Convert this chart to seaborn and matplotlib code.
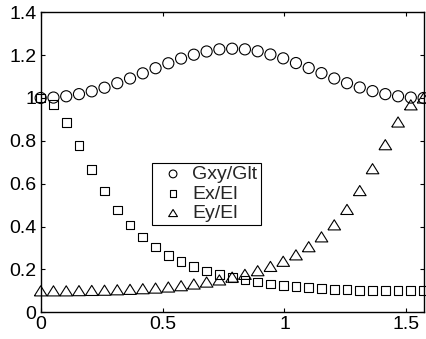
import numpy as np
import matplotlib
matplotlib.use("Agg")
import matplotlib.pyplot as plt
import seaborn as sns

# fibre angle, 3 degree steps (x axis is in radians, 0 .. pi/2)
angle_deg = [0, 3, 6, 9, 12, 15, 18, 21, 24, 27, 30, 33, 36, 39, 42, 45,
             48, 51, 54, 57, 60, 63, 66, 69, 72, 75, 78, 81, 84, 87, 90]

# values
gxy_glt = [1.000, 1.002, 1.008, 1.018, 1.031, 1.048, 1.069, 1.091, 1.115, 1.139,
           1.162, 1.184, 1.202, 1.217, 1.227, 1.230, 1.227, 1.218, 1.203, 1.185,
           1.163, 1.140, 1.116, 1.091, 1.069, 1.049, 1.032, 1.018, 1.008, 1.002, 1.000]
ex_el = [1.000, 0.969, 0.887, 0.779, 0.667, 0.566, 0.477, 0.407, 0.351, 0.305,
         0.266, 0.236, 0.213, 0.193, 0.176, 0.164, 0.151, 0.141, 0.132, 0.125,
         0.119, 0.114, 0.110, 0.107, 0.105, 0.103, 0.102, 0.101, 0.100, 0.100, 0.100]
ey_el = [0.100, 0.100, 0.100, 0.101, 0.102, 0.103, 0.105, 0.107, 0.110, 0.113,
         0.118, 0.124, 0.132, 0.141, 0.151, 0.164, 0.177, 0.194, 0.214, 0.238,
         0.268, 0.306, 0.352, 0.408, 0.480, 0.568, 0.670, 0.782, 0.888, 0.968, 1.000]

series_names = ["Gxy/Glt", "Ex/El", "Ey/El"]
xticks = [0, 0.5, 1, 1.5]
xtick_labels = ["0", "0.5", "1", "1.5"]
yticks = [0, 0.2, 0.4, 0.6, 0.8, 1.0, 1.2, 1.4]
ytick_labels = ["0", "0.2", "0.4", "0.6", "0.8", "1", "1.2", "1.4"]


def make_plot():
    sns.set_style("ticks")
    plt.rcParams['font.family'] = ['Liberation Sans', 'DejaVu Sans']

    theta = np.deg2rad(angle_deg)

    fig = plt.figure(figsize=(4.27, 3.39), dpi=100)
    ax = fig.add_axes([0.0953, 0.0788, 0.8967, 0.885])

    # matlab style open markers (triangle a bit wider than tall)
    tri = [(-1, -0.8), (1, -0.8), (0, 0.8), (-1, -0.8)]
    markers = ['o', 's', tri]
    sizes = [64, 40, 83]
    for name, vals, m, s in zip(series_names, [gxy_glt, ex_el, ey_el], markers, sizes):
        sns.scatterplot(x=theta, y=vals, marker=m, s=s, facecolors='none',
                        edgecolor='k', linewidth=0.8, label=name, ax=ax,
                        clip_on=False, zorder=3)

    ax.set_xlim(0, np.pi / 2)
    ax.set_ylim(0, 1.4)
    ax.set_xticks(xticks, labels=xtick_labels)
    ax.set_yticks(yticks, labels=ytick_labels)
    ax.set_xlabel('')
    ax.set_ylabel('')
    ax.tick_params(direction='in', length=3, width=0.8, top=True, right=True,
                   labelsize=14, pad=3, colors='k')
    for sp in ax.spines.values():
        sp.set_visible(True)
        sp.set_linewidth(1.0)
        sp.set_color('k')

    leg = ax.legend(loc='center', bbox_to_anchor=(0.432, 0.395), frameon=True,
                    fancybox=False, framealpha=1, edgecolor='k', fontsize=14,
                    markerscale=0.7, scatterpoints=1, handlelength=1.9,
                    handletextpad=0.05, borderpad=0.15, labelspacing=0.1,
                    borderaxespad=0)
    leg.get_frame().set_linewidth(0.8)

    fig.savefig("out.png", dpi=100)
    plt.close(fig)


if __name__ == '__main__':
    make_plot()
